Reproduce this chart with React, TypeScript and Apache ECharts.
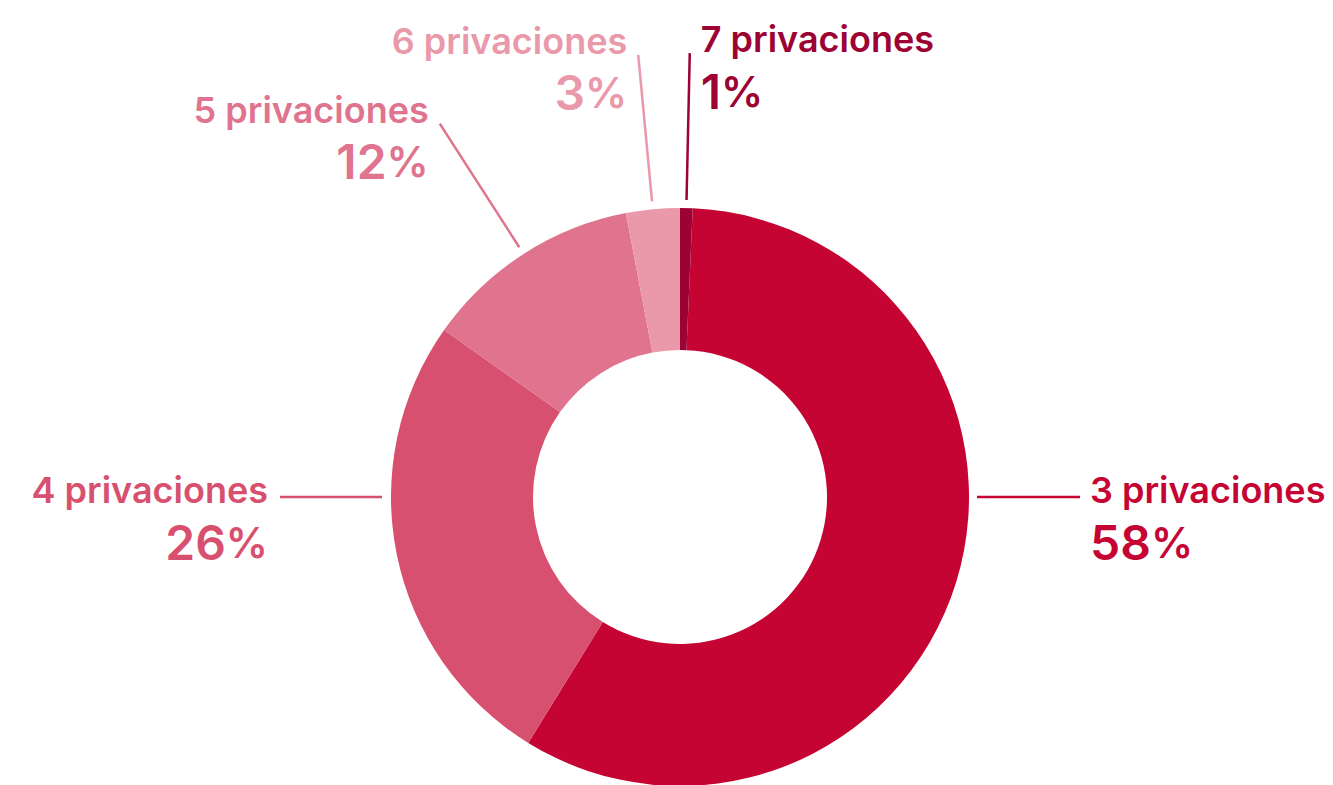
import React, { useEffect, useRef } from "react";
import * as echarts from "echarts";

const categories = ["3 privaciones", "4 privaciones", "5 privaciones", "6 privaciones", "7 privaciones"];
const shares = [58.1, 26, 12.2, 3, 0.7];
const colors = ["#C50433", "#D8506F", "#E0738D", "#E999AA", "#9C0334"];

const CX = 680;
const CY = 497;
const R_OUT = 289;
const R_IN = 147;

export default function App() {
  const ref = useRef<HTMLDivElement>(null);
  useEffect(() => {
    document.body.style.margin = "0";
    const chart = echarts.init(ref.current!, null, { renderer: "svg" });
    const total = shares.reduce((a, b) => a + b, 0);
    const last = shares[shares.length - 1];
    const startAngle = 90 - (last / total) * 360;
    const mids: number[] = [];
    let acc = 90 - startAngle;
    shares.forEach((v) => {
      const span = (v / total) * 360;
      mids.push(acc + span / 2);
      acc += span;
    });
    const radialPt = (deg: number, r: number) => {
      const a = (deg * Math.PI) / 180;
      return [CX + r * Math.sin(a), CY - r * Math.cos(a)];
    };

    chart.setOption({
      animation: false,
      series: [
        {
          type: "pie",
          center: [CX, CY],
          radius: [R_IN, R_OUT],
          startAngle,
          clockwise: true,
          silent: true,
          data: categories.map((c, i) => ({
            name: c,
            value: shares[i],
            itemStyle: { color: colors[i] },
            label: { color: colors[i] },
            labelLine: { lineStyle: { color: colors[i], width: 2.5 } },
          })),
          label: {
            show: true,
            position: "outside",
            fontFamily: "Inter",
            formatter: (p: any) => `{n|${p.name}}\n{v|${Math.round(p.value)}}{p|%}`,
            rich: {
              n: { fontSize: 36, fontWeight: 600, fontFamily: "Inter", lineHeight: 46 },
              v: { fontSize: 48, fontWeight: 600, fontFamily: "Inter", lineHeight: 58 },
              p: { fontSize: 42, fontWeight: 600, fontFamily: "Inter", lineHeight: 58 },
            },
          },
          labelLine: { show: true, length: 20, length2: 20, smooth: false },
          labelLayout: (params: any) => {
            const i = params.dataIndex;
            if (i === 0) {
              return {
                x: CX + 410,
                y: CY + 22,
                align: "left",
                verticalAlign: "middle",
                labelLinePoints: [[CX + 297, CY], [CX + 400, CY], [CX + 400, CY]],
              };
            }
            if (i === 1) {
              return {
                x: CX - 412,
                y: CY + 22,
                align: "right",
                verticalAlign: "middle",
                labelLinePoints: [[CX - 298, CY], [CX - 400, CY], [CX - 400, CY]],
              };
            }
            const p1 = radialPt(mids[i], R_OUT + 8);
            const p2 = radialPt(mids[i], R_OUT + 155);
            const left = p2[0] > CX;
            return {
              x: left ? p2[0] + 11 : p2[0] - 11,
              y: p2[1] + 15,
              align: left ? "left" : "right",
              verticalAlign: "middle",
              labelLinePoints: [p1, p2, p2],
            };
          },
        },
      ],
    });
    return () => chart.dispose();
  }, []);
  return <div ref={ref} style={{ width: 1333, height: 785 }} />;
}
